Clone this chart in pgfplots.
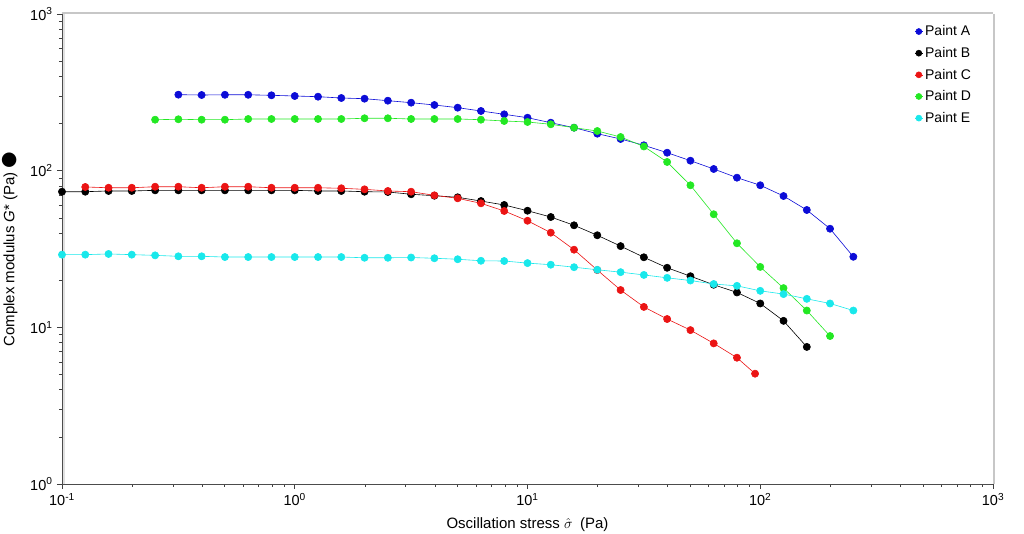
\documentclass[border=0pt]{standalone}
\usepackage{fontspec}
\setmainfont{Liberation Sans}
\newfontfamily\dejavu{DejaVu Sans}
\usepackage{pgfplots}
\pgfplotsset{compat=1.18}
\definecolor{cA}{RGB}{12,12,215}
\definecolor{cB}{RGB}{0,0,0}
\definecolor{cC}{RGB}{235,20,20}
\definecolor{cD}{RGB}{35,232,35}
\definecolor{cE}{RGB}{25,232,235}
\begin{document}
\begin{tikzpicture}[font=\fontsize{14.5}{17}\selectfont]
\path[use as bounding box] (0,0) rectangle (1024pt,534pt);
\begin{axis}[
  at={(62pt,50pt)}, anchor=south west,
  width=931pt, height=470pt, scale only axis,
  xmode=log, ymode=log,
  xmin=0.1, xmax=1000, ymin=1, ymax=1000,
  clip=false,
  axis line style={draw=none},
  xtick={0.1,1,10,100,1000},
  xticklabels={10\textsuperscript{-1},10\textsuperscript{0},10\textsuperscript{1},10\textsuperscript{2},10\textsuperscript{3}},
  ytick={1,10,100,1000},
  yticklabels={10\textsuperscript{0},10\textsuperscript{1},10\textsuperscript{2},10\textsuperscript{3}},
  minor xtick={0.2,0.3,0.4,0.5,0.6,0.7,0.8,0.9,2,3,4,5,6,7,8,9,20,30,40,50,60,70,80,90,200,300,400,500,600,700,800,900},
  minor ytick={2,3,4,5,6,7,8,9,20,30,40,50,60,70,80,90,200,300,400,500,600,700,800,900},
  xtick pos=left, ytick pos=left,
  tick align=outside,
  major tick length=5pt, minor tick length=3pt,
  tick style={black!75, line width=0.6pt},
  xticklabel style={yshift=-1pt},
  yticklabel style={xshift=-1pt},
  xlabel={Oscillation stress \raisebox{0pt}{$\hat{\sigma}$}\enspace(Pa)},
  ylabel={Complex modulus \textit{G}* (Pa) {\dejavu\fontsize{19}{19}\selectfont ●}},
  every axis x label/.style={at={(axis description cs:0.5,-0.087)}, anchor=center, font=\fontsize{15}{18}\selectfont},
  every axis y label/.style={at={(axis description cs:-0.0559,0.5)}, rotate=90, anchor=center, font=\fontsize{15}{18}\selectfont},
  legend style={at={(0.982,0.984)}, anchor=north east, draw=none, fill=none,
     font=\fontsize{14}{17}\selectfont, row sep=6pt},
  legend cell align=left,
  legend image code/.code={\draw[mark size=3pt, line width=0.6pt] (6pt,0pt) -- (14pt,0pt);
     \draw[mark=*, mark size=3pt] plot coordinates {(10pt,0pt)};},
  every axis plot/.append style={line width=0.6pt, mark=*, mark size=3.6pt},
]
\addplot[cA, mark options={fill=cA, draw=cA}] coordinates {
(0.3162,305.5)(0.3981,304)(0.5012,305)(0.6310,305)(0.7943,302.7)(1,299.6)(1.259,296.6)(1.585,290.9)(1.995,288)(2.512,279.7)
(3.162,271.6)(3.981,262.5)(5.012,252.4)(6.310,240.4)(7.943,228.9)(10,217.8)(12.59,202.4)(15.85,188.1)(19.95,172.2)(25.12,159.3)
(31.62,145.2)(39.81,130.2)(50.12,115.8)(63.10,102.5)(79.43,90.2)(100,80.7)(125.9,68.9)(158.5,56.1)(199.5,42.6)(251.2,28.2)};
\addlegendentry{Paint A}
\addplot[cB, mark options={fill=cB, draw=cB}] coordinates {
(0.1,73.4)(0.1259,73.4)(0.1585,74.2)(0.1995,74.2)(0.2512,74.9)(0.3162,74.9)(0.3981,74.9)(0.5012,74.9)(0.6310,74.9)(0.7943,74.9)
(1,74.9)(1.259,74.2)(1.585,74.2)(1.995,73.4)(2.512,73.1)(3.162,70.7)(3.981,69.2)(5.012,67.6)(6.310,64.0)(7.943,60.4)
(10,55.5)(12.59,50.6)(15.85,44.8)(19.95,38.7)(25.12,33.0)(31.62,28.0)(39.81,24.0)(50.12,21.2)(63.10,18.7)(79.43,16.7)
(100,14.2)(125.9,11.0)(158.5,7.5)};
\addlegendentry{Paint B}
\addplot[cC, mark options={fill=cC, draw=cC}] coordinates {
(0.1259,78.7)(0.1585,77.8)(0.1995,77.8)(0.2512,79.0)(0.3162,79.0)(0.3981,77.8)(0.5012,79.0)(0.6310,79.0)(0.7943,77.8)
(1,77.8)(1.259,77.8)(1.585,77.2)(1.995,76.0)(2.512,74.2)(3.162,73.4)(3.981,69.6)(5.012,66.6)(6.310,61.9)(7.943,55.3)
(10,47.9)(12.59,40.2)(15.85,31.3)(19.95,23.2)(25.12,17.3)(31.62,13.5)(39.81,11.3)(50.12,9.6)(63.10,7.9)(79.43,6.4)(95,5.06)};
\addlegendentry{Paint C}
\addplot[cD, mark options={fill=cD, draw=cD}] coordinates {
(0.2512,211.5)(0.3162,212.8)(0.3981,211.5)(0.5012,211.5)(0.6310,213.7)(0.7943,213.7)(1,213.7)(1.259,213.7)(1.585,213.7)(1.995,216)
(2.512,216)(3.162,213.7)(3.981,213.7)(5.012,213.7)(6.310,211.5)(7.943,207.5)(10,204.5)(12.59,197.7)(15.85,188.1)(19.95,179.1)
(25.12,164)(31.62,142.7)(39.81,113.6)(50.12,80.7)(63.10,52.7)(79.43,34.4)(100,24.3)(125.9,17.8)(158.5,12.8)(199.5,8.8)};
\addlegendentry{Paint D}
\addplot[cE, mark options={fill=cE, draw=cE}] coordinates {
(0.1,29.1)(0.1259,29.1)(0.1585,29.4)(0.1995,29.1)(0.2512,28.8)(0.3162,28.4)(0.3981,28.4)(0.5012,28.1)(0.6310,28.1)(0.7943,28.1)
(1,28.1)(1.259,28.1)(1.585,28.1)(1.995,27.8)(2.512,27.8)(3.162,27.9)(3.981,27.6)(5.012,27.2)(6.310,26.6)(7.943,26.5)
(10,25.7)(12.59,25.1)(15.85,24.2)(19.95,23.3)(25.12,22.5)(31.62,21.6)(39.81,20.7)(50.12,19.9)(63.10,18.9)(79.43,18.4)
(100,17.1)(125.9,16.3)(158.5,15.2)(199.5,14.2)(251.2,12.8)};
\addlegendentry{Paint E}
\draw[black!22, line width=2.5pt] (rel axis cs:0,1) ++(0pt,1pt) -- ([yshift=1pt]rel axis cs:1,1);
\draw[black!22, line width=2.5pt] (rel axis cs:1,1) ++(1pt,0pt) -- ([xshift=1pt]rel axis cs:1,0);
\draw[black!12, line width=2pt] ([xshift=2pt]rel axis cs:0,1) -- ([xshift=2pt]rel axis cs:0,0);
\draw[black!70, line width=0.8pt] (rel axis cs:0,1) -- (rel axis cs:0,0) -- (rel axis cs:1,0);
\end{axis}
\end{tikzpicture}
\end{document}
